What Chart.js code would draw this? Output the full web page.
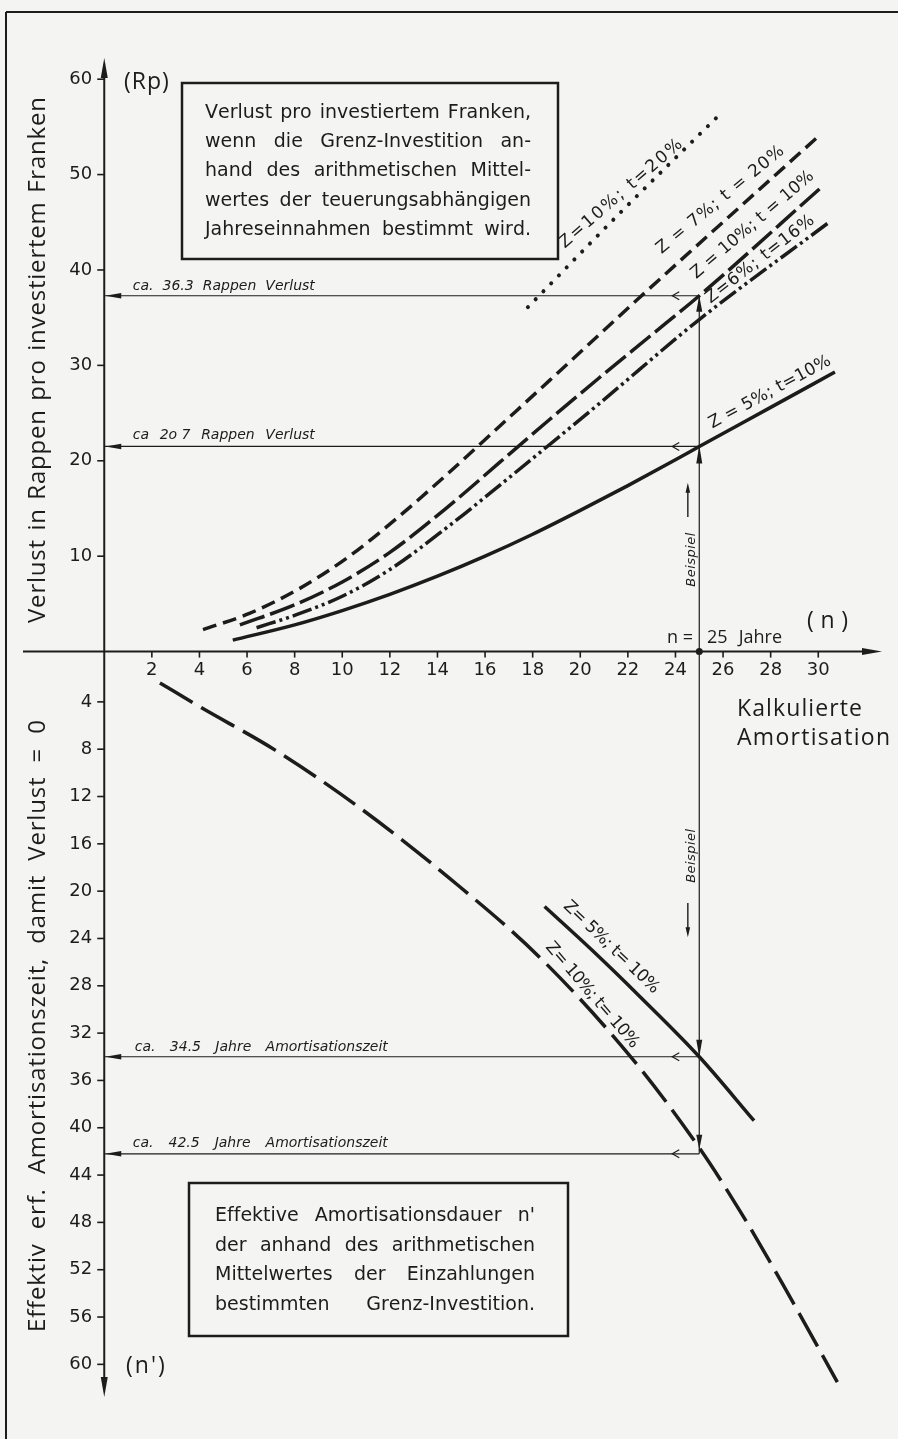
<!DOCTYPE html>
<html lang="de">
<head>
<meta charset="utf-8">
<title>Verlust pro investiertem Franken</title>
<script src="https://cdn.jsdelivr.net/npm/chart.js@4.4.1/dist/chart.umd.min.js"></script>
<style>
  html, body { margin: 0; padding: 0; background: #f4f4f3; }
  canvas { display: block; }
</style>
</head>
<body>
<canvas id="diagramm" width="898" height="1439"></canvas>
<script>
// Teilung der Achsen
const nTicks = [2, 4, 6, 8, 10, 12, 14, 16, 18, 20, 22, 24, 26, 28, 30];
const rpTicks = [10, 20, 30, 40, 50, 60];
const nStrichTicks = [4, 8, 12, 16, 20, 24, 28, 32, 36, 40, 44, 48, 52, 56, 60];

// Oben: Verlust in Rappen (Rp) ueber der kalkulierten Amortisation n
const n_z10t20 = [17.8, 21.8, 25.9];
const rp_z10t20 = [36.1, 46.3, 56.4];

const n_z7t20 = [4.15, 6.1, 8.2, 10.3, 12.4, 14.5, 16.6, 18.7, 22.4, 30.0];
const rp_z7t20 = [2.3, 4.0, 6.6, 10.0, 14.2, 18.8, 23.6, 28.4, 36.9, 54.0];

const n_z10t10 = [5.7, 8.0, 10.0, 12.0, 14.5, 16.6, 18.7, 20.8, 22.9, 25.0, 30.1];
const rp_z10t10 = [2.8, 4.9, 7.3, 10.4, 15.3, 19.8, 24.3, 28.7, 33.0, 37.3, 48.6];

const n_z6t16 = [6.4, 8.0, 10.0, 12.0, 14.5, 16.6, 20.8, 25.0, 30.4];
const rp_z6t16 = [2.5, 3.8, 5.8, 8.6, 13.2, 17.4, 26.0, 34.8, 44.9];

const n_z5t10 = [5.4, 8.0, 10.0, 12.0, 14.0, 16.0, 18.0, 20.0, 22.0, 24.0, 25.0, 28.0, 30.7];
const rp_z5t10 = [1.2, 2.8, 4.3, 6.0, 7.9, 10.0, 12.3, 14.8, 17.4, 20.1, 21.5, 25.6, 29.3];

// Unten: effektiv erforderliche Amortisationszeit n'
const n_unten_z10t10 = [2.34, 4.0, 7.2, 10.7, 14.5, 18.3, 22.2, 25.0, 26.7, 28.5, 30.8];
const ns_unten_z10t10 = [2.4, 4.4, 8.1, 12.9, 18.9, 25.6, 34.2, 41.7, 47.0, 53.2, 61.5];

const n_unten_z5t10 = [18.5, 20.5, 22.5, 25.0, 27.3];
const ns_unten_z5t10 = [21.3, 25.0, 28.9, 34.0, 39.4];

const beispielN = [0, 25];
const rpAblesung = [37.3, 21.5];      // "ca. 36.3" und "ca 20.7 Rappen"
const nStrichAblesung = [34.0, 42.2]; // "ca. 34.5" und "ca. 42.5 Jahre"

const tinte = '#1c1c1c';
const schrift = '"Open Sans", Roboto, sans-serif';
const breitSchrift = '"DejaVu Sans", "Open Sans", sans-serif';

// Beschriftung entlang der Kurven (Anfang der Grundlinie, Winkel, Laenge)
const kurvenBeschriftung = [
  { text: 'Z=10%; t=20%', n: 19.43, wert: 42.0, achse: 'y', grad: -41, breite: 157, abstand: 3 },
  { text: 'Z = 7%; t = 20%', n: 23.49, wert: 41.4, achse: 'y', grad: -39.5, breite: 160, abstand: 3 },
  { text: 'Z = 10%; t = 10%', n: 24.96, wert: 38.8, achse: 'y', grad: -40.7, breite: 156, abstand: 3 },
  { text: 'Z=6%; t=16%', n: 25.52, wert: 36.3, achse: 'y', grad: -37.9, breite: 133, abstand: 2 },
  { text: 'Z = 5%; t=10%', n: 25.59, wert: 23.2, achse: 'y', grad: -28.4, breite: 136, abstand: 2 },
  { text: 'Z= 5%; t= 10%', n: 19.23, wert: 21.4, achse: 'y2', grad: 43.7, breite: 126, abstand: 1 },
  { text: 'Z= 10%; t= 10%', n: 18.49, wert: 24.8, achse: 'y2', grad: 49.3, breite: 134, abstand: 1 }
];

function punkte(xs, ys) {
  return xs.map((v, i) => ({ x: v, y: ys[i] }));
}

function kurve(label, xs, ys, achse, dash, extra) {
  return Object.assign({
    label: label,
    data: punkte(xs, ys),
    yAxisID: achse,
    borderColor: tinte,
    borderWidth: 3.5,
    borderDash: dash,
    pointRadius: 0,
    fill: false,
    cubicInterpolationMode: 'monotone'
  }, extra || {});
}

function hilfslinie(label, xs, ys, achse) {
  return { label: label, data: punkte(xs, ys), yAxisID: achse, borderColor: tinte,
    borderWidth: 1.2, pointRadius: 0, fill: false, tension: 0 };
}

// Text mit Sperrung; was an der Breite fehlt, geht in die Wortabstaende
// (ohne Wortabstaende in die Buchstabenabstaende)
function satz(ctx, text, x, y, breite, sperrung) {
  const zeichen = Array.from(text);
  let ls = sperrung || 0;
  const roh = zeichen.reduce((s, z) => s + ctx.measureText(z).width, 0);
  const luecken = zeichen.filter(z => z === ' ').length;
  let extra = 0;
  if (breite && luecken) {
    extra = (breite - roh - ls * (zeichen.length - 1)) / luecken;
  } else if (breite) {
    ls = (breite - roh) / Math.max(1, zeichen.length - 1);
  }
  let cx = x;
  zeichen.forEach(z => {
    if (z !== ' ') ctx.fillText(z, cx, y);
    cx += ctx.measureText(z).width + ls + (z === ' ' ? extra : 0);
  });
}

function pfeil(ctx, tx, ty, dx, dy, laenge, halb) {
  const nx = -dy, ny = dx;
  ctx.beginPath();
  ctx.moveTo(tx, ty);
  ctx.lineTo(tx - dx * laenge + nx * halb, ty - dy * laenge + ny * halb);
  ctx.lineTo(tx - dx * laenge - nx * halb, ty - dy * laenge - ny * halb);
  ctx.closePath();
  ctx.fill();
}

function winkelPfeil(ctx, tx, ty) {
  ctx.beginPath();
  ctx.moveTo(tx + 7, ty - 4);
  ctx.lineTo(tx, ty);
  ctx.lineTo(tx + 7, ty + 4);
  ctx.stroke();
}

function strich(ctx, x1, y1, x2, y2) {
  ctx.beginPath(); ctx.moveTo(x1, y1); ctx.lineTo(x2, y2); ctx.stroke();
}

const zeichnung = {
  id: 'zeichnung',
  beforeDatasetsDraw(chart) {
    const { ctx, scales: { x, y, y2 } } = chart;
    const x0 = x.getPixelForValue(0);
    const y0 = y.getPixelForValue(0);
    ctx.save();
    ctx.strokeStyle = tinte;
    ctx.fillStyle = tinte;

    // Rahmen
    ctx.lineWidth = 2;
    strich(ctx, 6, 1439, 6, 12);
    strich(ctx, 6, 12, 898, 12);

    // Achsen
    strich(ctx, x0, 70, x0, 1385);
    strich(ctx, 23, y0, 870, y0);
    pfeil(ctx, x0, 58, 0, -1, 20, 3.5);
    pfeil(ctx, x0, 1397, 0, 1, 20, 3.5);
    pfeil(ctx, 882, y0, 1, 0, 20, 3.5);

    ctx.font = '18px ' + breitSchrift;
    ctx.textBaseline = 'middle';
    ctx.textAlign = 'right';
    ctx.lineWidth = 1.6;
    rpTicks.forEach(v => {
      const p = y.getPixelForValue(v);
      strich(ctx, x0 - 7, p, x0, p);
      ctx.fillText(String(v), x0 - 12, p);
    });
    nStrichTicks.forEach(v => {
      const p = y2.getPixelForValue(v);
      strich(ctx, x0 - 7, p, x0, p);
      ctx.fillText(String(v), x0 - 12, p);
    });
    ctx.textAlign = 'center';
    nTicks.forEach(v => {
      const p = x.getPixelForValue(v);
      strich(ctx, p, y0, p, y0 + 6);
      ctx.fillText(String(v), p, y0 + 19);
    });
    ctx.restore();
  },
  afterDatasetsDraw(chart) {
    const { ctx, scales: { x, y, y2 } } = chart;
    const x0 = x.getPixelForValue(0);
    const y0 = y.getPixelForValue(0);
    const xb = x.getPixelForValue(beispielN[1]);
    ctx.save();
    ctx.strokeStyle = tinte;
    ctx.fillStyle = tinte;
    ctx.lineWidth = 1.2;
    ctx.textAlign = 'left';
    ctx.textBaseline = 'alphabetic';

    // Pfeile an den Ablese-Linien
    const hoehen = [
      y.getPixelForValue(rpAblesung[0]), y.getPixelForValue(rpAblesung[1]),
      y2.getPixelForValue(nStrichAblesung[0]), y2.getPixelForValue(nStrichAblesung[1])
    ];
    hoehen.forEach(p => {
      pfeil(ctx, x0 + 1, p, -1, 0, 16, 2.7);
      winkelPfeil(ctx, xb - 27, p);
    });
    pfeil(ctx, xb, hoehen[0], 0, -1, 16, 3);
    pfeil(ctx, xb, hoehen[1] - 1, 0, -1, 18, 3);
    pfeil(ctx, xb, hoehen[2], 0, 1, 17, 3);
    pfeil(ctx, xb, hoehen[3] - 4, 0, 1, 15, 3);
    ctx.beginPath();
    ctx.arc(xb, y0, 3.5, 0, Math.PI * 2);
    ctx.fill();

    // Ablese-Texte
    ctx.font = 'italic 14px ' + breitSchrift;
    const xt = x.getPixelForValue(1.2);
    satz(ctx, 'ca. 36.3 Rappen Verlust', xt, hoehen[0] - 6, 182);
    satz(ctx, 'ca 2o\u00a07 Rappen Verlust', xt, hoehen[1] - 7, 182);
    satz(ctx, 'ca. 34.5 Jahre Amortisationszeit', xt + 2, hoehen[2] - 6, 253);
    satz(ctx, 'ca. 42.5 Jahre Amortisationszeit', xt, hoehen[3] - 7, 255);

    // Beispiel-Hinweise
    ctx.font = 'italic 13px ' + breitSchrift;
    const xh = x.getPixelForValue(24.52);
    [y.getPixelForValue(6.8), y2.getPixelForValue(19.3)].forEach(p => {
      ctx.save();
      ctx.translate(xh + 7, p);
      ctx.rotate(-Math.PI / 2);
      satz(ctx, 'Beispiel', 0, 0, 54);
      ctx.restore();
    });
    ctx.lineWidth = 1.4;
    const o1 = y.getPixelForValue(14.1), o2 = y.getPixelForValue(17.7);
    strich(ctx, xh, o1, xh, o2 + 8);
    pfeil(ctx, xh, o2, 0, -1, 10, 2.3);
    const u1 = y2.getPixelForValue(21.0), u2 = y2.getPixelForValue(23.9);
    strich(ctx, xh, u1, xh, u2 - 8);
    pfeil(ctx, xh, u2, 0, 1, 10, 2.3);

    // Kurvenbeschriftungen, gleichmaessig gesperrt
    ctx.font = '17px ' + breitSchrift;
    kurvenBeschriftung.forEach(k => {
      const sc = k.achse === 'y' ? y : y2;
      ctx.save();
      ctx.translate(x.getPixelForValue(k.n), sc.getPixelForValue(k.wert));
      ctx.rotate(k.grad * Math.PI / 180);
      satz(ctx, k.text.replace(/ /g, '\u00a0'), 0, -k.abstand, k.breite);
      ctx.restore();
    });

    // Textkaesten
    ctx.lineWidth = 2.5;
    ctx.strokeRect(182, 83, 376, 176);
    ctx.strokeRect(189, 1183, 379, 153);
    ctx.font = '19px ' + breitSchrift;
    ['Verlust pro investiertem Franken,',
     'wenn die Grenz-Investition an-',
     'hand des arithmetischen Mittel-',
     'wertes der teuerungsabhängigen',
     'Jahreseinnahmen bestimmt wird.'
    ].forEach((z, i) => satz(ctx, z, 205, 118 + i * 29.2, 326));
    ['Effektive Amortisationsdauer n\'',
     'der anhand des arithmetischen',
     'Mittelwertes der Einzahlungen',
     'bestimmten Grenz-Investition.'
    ].forEach((z, i) => satz(ctx, z, 215, 1221 + i * 29.7, 320));

    // Achsenbezeichnungen
    ctx.font = '23px ' + schrift;
    satz(ctx, '(Rp)', 124, 89, 0, 1);
    satz(ctx, '(n\')', 126, 1373, 0, 2);
    satz(ctx, '(n)', 807, 628, 41);
    ctx.font = '18px ' + schrift;
    satz(ctx, 'n =', 667, 643, 0, 0);
    satz(ctx, '25 Jahre', 707, 643, 75, 0);
    ctx.font = '23px ' + schrift;
    satz(ctx, 'Kalkulierte', 737, 716, 125);
    satz(ctx, 'Amortisation', 737, 745, 153);

    ctx.font = '24px ' + schrift;
    ctx.save();
    ctx.translate(45, 623);
    ctx.rotate(-Math.PI / 2);
    satz(ctx, 'Verlust in Rappen pro investiertem Franken', 0, 0, 526, 0.8);
    ctx.restore();
    ctx.save();
    ctx.translate(45, 1332);
    ctx.rotate(-Math.PI / 2);
    satz(ctx, 'Effektiv erf. Amortisationszeit, damit Verlust = 0', 0, 0, 612, 0.8);
    ctx.restore();

    ctx.restore();
  }
};

const datasets = [
  kurve('Z=10%; t=20%', n_z10t20, rp_z10t20, 'y', [0.1, 11], { borderWidth: 4, borderCapStyle: 'round' }),
  kurve('Z=7%; t=20%', n_z7t20, rp_z7t20, 'y', [14, 7]),
  kurve('Z=10%; t=10%', n_z10t10, rp_z10t10, 'y', [26, 6]),
  kurve('Z=6%; t=16%', n_z6t16, rp_z6t16, 'y', [20, 4, 3, 4, 3, 4]),
  kurve('Z=5%; t=10%', n_z5t10, rp_z5t10, 'y', []),
  kurve("n' Z=10%; t=10%", n_unten_z10t10, ns_unten_z10t10, 'y2', [38, 10]),
  kurve("n' Z=5%; t=10%", n_unten_z5t10, ns_unten_z5t10, 'y2', []),
  hilfslinie('Ablesung 36.3 Rp', beispielN, [rpAblesung[0], rpAblesung[0]], 'y'),
  hilfslinie('Ablesung 20.7 Rp', beispielN, [rpAblesung[1], rpAblesung[1]], 'y'),
  hilfslinie('Beispiel oben', [beispielN[1], beispielN[1]], [rpAblesung[0], 0], 'y'),
  hilfslinie('Ablesung 34.5 J', beispielN, [nStrichAblesung[0], nStrichAblesung[0]], 'y2'),
  hilfslinie('Ablesung 42.5 J', beispielN, [nStrichAblesung[1], nStrichAblesung[1]], 'y2'),
  hilfslinie('Beispiel unten', [beispielN[1], beispielN[1]], [0, nStrichAblesung[1]], 'y2')
];

new Chart(document.getElementById('diagramm'), {
  type: 'line',
  data: { datasets: datasets },
  options: {
    responsive: false,
    animation: false,
    events: [],
    layout: { padding: 0 },
    plugins: { legend: { display: false }, tooltip: { enabled: false } },
    scales: {
      x: { type: 'linear', display: false, min: -4.38, max: 33.35 },
      y: { type: 'linear', display: false, min: -82.54, max: 68.30 },
      y2: { type: 'linear', display: false, reverse: true, min: -55.33, max: 66.31 }
    }
  },
  plugins: [zeichnung]
});
</script>
</body>
</html>
